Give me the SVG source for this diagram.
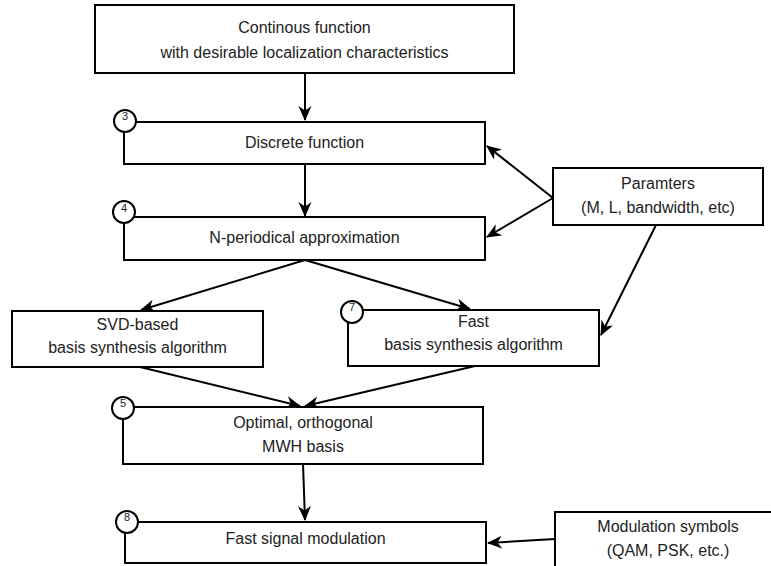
<svg xmlns="http://www.w3.org/2000/svg" width="771" height="566" viewBox="0 0 771 566">
<style>
.box{fill:#fff;stroke:#000;stroke-width:2}
.num{fill:#fff;stroke:#000;stroke-width:2}
.t{font-family:"Liberation Sans",Arial,sans-serif;font-size:16px;fill:#222;text-anchor:middle}
.n{font-family:"Liberation Sans",Arial,sans-serif;font-size:11px;fill:#222;text-anchor:middle}
.c{fill:none;stroke:#000;stroke-width:2}
</style>
<defs>
<marker id="ah" markerUnits="userSpaceOnUse" markerWidth="18" markerHeight="14" refX="14" refY="6.5" orient="auto">
<path d="M0,0 L15,6.5 L0,13 L4.5,6.5 Z" fill="#000"/>
</marker>
</defs>
<g id="connectors">
<line class="c" x1="305" y1="73" x2="305" y2="120" marker-end="url(#ah)"/>
<line class="c" x1="305" y1="164" x2="305" y2="216" marker-end="url(#ah)"/>
<line class="c" x1="553" y1="198" x2="487" y2="146" marker-end="url(#ah)"/>
<line class="c" x1="553" y1="198" x2="487" y2="237" marker-end="url(#ah)"/>
<line class="c" x1="305" y1="260" x2="141" y2="310" marker-end="url(#ah)"/>
<line class="c" x1="305" y1="260" x2="470" y2="309" marker-end="url(#ah)"/>
<line class="c" x1="656" y1="225" x2="601" y2="335" marker-end="url(#ah)"/>
<line class="c" x1="140" y1="367" x2="300" y2="406" marker-end="url(#ah)"/>
<line class="c" x1="475" y1="366" x2="305" y2="406" marker-end="url(#ah)"/>
<line class="c" x1="303" y1="464" x2="305" y2="520" marker-end="url(#ah)"/>
<line class="c" x1="555" y1="539" x2="488" y2="543" marker-end="url(#ah)"/>
</g>
<g id="continuous">
<rect class="box" x="95" y="5" width="419" height="68"/>
<text class="t" x="304.5" y="33">Continous function</text>
<text class="t" x="304.5" y="58">with desirable localization characteristics</text>
</g>
<g id="discrete">
<rect class="box" x="124" y="122" width="361" height="42"/>
<text class="t" x="304.5" y="148">Discrete function</text>
<circle class="num" cx="125" cy="121" r="11"/>
<text class="n" x="125" y="120">3</text>
</g>
<g id="nperiodical">
<rect class="box" x="124" y="217" width="361" height="43"/>
<text class="t" x="304.5" y="243">N-periodical approximation</text>
<circle class="num" cx="124" cy="212" r="11"/>
<text class="n" x="124" y="212">4</text>
</g>
<g id="parameters">
<rect class="box" x="553" y="168" width="210" height="57"/>
<text class="t" x="658" y="189">Paramters</text>
<text class="t" x="658" y="213">(M, L, bandwidth, etc)</text>
</g>
<g id="svd">
<rect class="box" x="12" y="311" width="251" height="56"/>
<text class="t" x="137.5" y="330">SVD-based</text>
<text class="t" x="137.5" y="353">basis synthesis algorithm</text>
</g>
<g id="fast">
<rect class="box" x="348" y="310" width="251" height="56"/>
<text class="t" x="473.5" y="327">Fast</text>
<text class="t" x="473.5" y="350">basis synthesis algorithm</text>
<circle class="num" cx="352" cy="312" r="11"/>
<text class="n" x="352" y="311">7</text>
</g>
<g id="optimal">
<rect class="box" x="123" y="407" width="360" height="57"/>
<text class="t" x="303" y="428">Optimal, orthogonal</text>
<text class="t" x="303" y="452">MWH basis</text>
<circle class="num" cx="123" cy="408" r="11"/>
<text class="n" x="123" y="407">5</text>
</g>
<g id="modulation">
<rect class="box" x="125" y="522" width="361" height="41"/>
<text class="t" x="305.5" y="544">Fast signal modulation</text>
<circle class="num" cx="127" cy="522" r="11"/>
<text class="n" x="127" y="521">8</text>
</g>
<g id="symbols">
<rect class="box" x="555" y="512" width="226" height="60"/>
<text class="t" x="668" y="532">Modulation symbols</text>
<text class="t" x="668" y="556">(QAM, PSK, etc.)</text>
</g>
</svg>
